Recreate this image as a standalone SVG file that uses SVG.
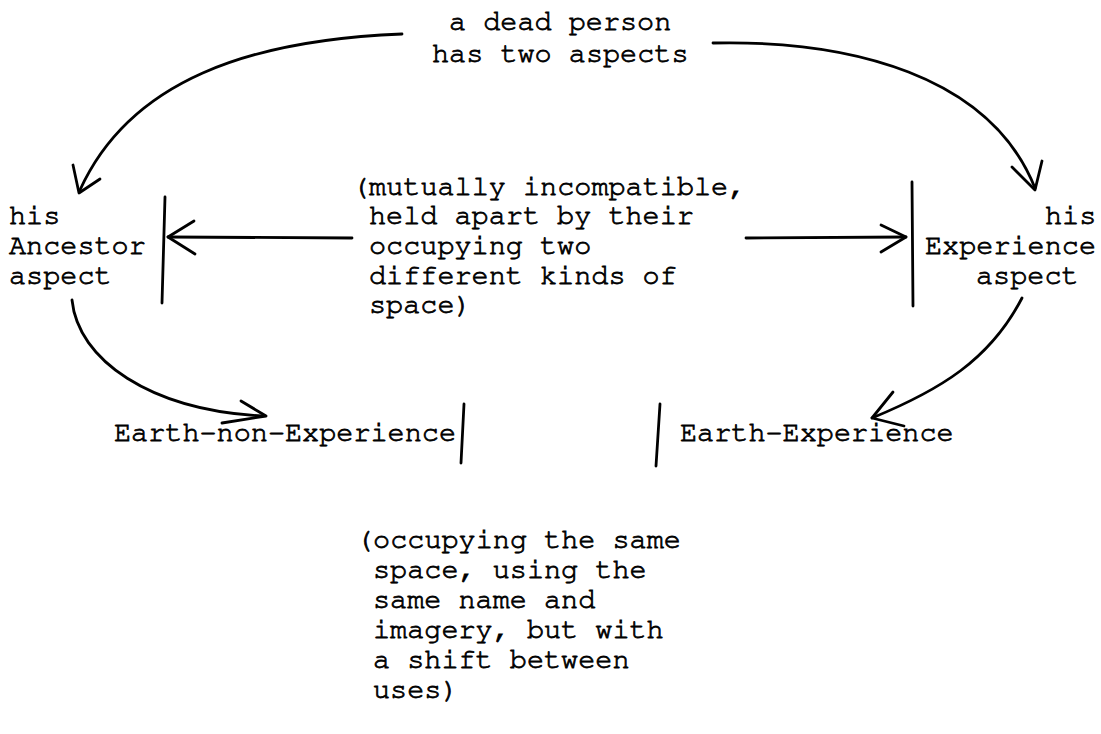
<svg xmlns="http://www.w3.org/2000/svg" width="1101" height="734" viewBox="0 0 1101 734">
  <style>
    text { font-family: "Nimbus Mono PS", "Nimbus Mono L", "FreeMono", "Liberation Mono", monospace; font-size: 28.5px; fill: #000; stroke: #000; stroke-width: 0.8px; }
    .line { fill: none; stroke: #000; stroke-width: 2.8; stroke-linecap: round; stroke-linejoin: round; }
    .bar { fill: none; stroke: #000; stroke-width: 2.8; stroke-linecap: round; }
  </style>
  <rect width="1101" height="734" fill="#fff"/>

  <g id="dead-person">
    <text x="449" y="30">a dead person</text>
    <text x="432" y="62">has two aspects</text>
  </g>

  <g id="ancestor-aspect">
    <text x="9" y="224">his</text>
    <text x="9" y="254">Ancestor</text>
    <text x="9" y="284">aspect</text>
    <path class="bar" d="M165,197 L162,303"/>
  </g>

  <g id="incompatible-note">
    <text x="352" y="195">(mutually incompatible,</text>
    <text x="369" y="224">held apart by their</text>
    <text x="369" y="254">occupying two</text>
    <text x="369" y="284">different kinds of</text>
    <text x="369" y="313">space)</text>
  </g>

  <g id="experience-aspect">
    <text x="1045" y="224">his</text>
    <text x="925" y="254">Experience</text>
    <text x="976" y="284">aspect</text>
    <path class="bar" d="M912,182 L913,306"/>
  </g>

  <g id="earth-non-experience">
    <text x="114" y="441">Earth-non-Experience</text>
    <path class="bar" d="M464,404 L461,463"/>
  </g>

  <g id="earth-experience">
    <path class="bar" d="M660,404 L656,466"/>
    <text x="680" y="441">Earth-Experience</text>
  </g>

  <g id="same-space-note">
    <text x="356" y="548">(occupying the same</text>
    <text x="373" y="578">space, using the</text>
    <text x="373" y="608">same name and</text>
    <text x="373" y="638">imagery, but with</text>
    <text x="373" y="668">a shift between</text>
    <text x="373" y="698">uses)</text>
  </g>

  <g id="connectors">
    <!-- dead person -> Ancestor aspect -->
    <path class="line" d="M402,34 C250,40 130,80 80,190"/>
    <path class="line" d="M73,165 L79,193 L100,179"/>
    <!-- dead person -> Experience aspect -->
    <path class="line" d="M713,43 C850,40 990,75 1035,188"/>
    <path class="line" d="M1012,167 L1035,190 L1042,161"/>
    <!-- note -> Ancestor bar -->
    <path class="line" d="M352,238 L168,237"/>
    <path class="line" d="M194,221 L168,237 L195,254"/>
    <!-- note -> Experience bar -->
    <path class="line" d="M746,238 L906,237"/>
    <path class="line" d="M881,225 L906,237 L881,252"/>
    <!-- Ancestor aspect -> Earth-non-Experience -->
    <path class="line" d="M72,300 C78,360 150,410 262,416"/>
    <path class="line" d="M241,401 L266,416 L222,423"/>
    <!-- Experience aspect -> Earth-Experience -->
    <path class="line" d="M1022,298 C990,360 940,390 872,418"/>
    <path class="line" d="M893,392 L872,418 L904,426"/>
  </g>
</svg>
